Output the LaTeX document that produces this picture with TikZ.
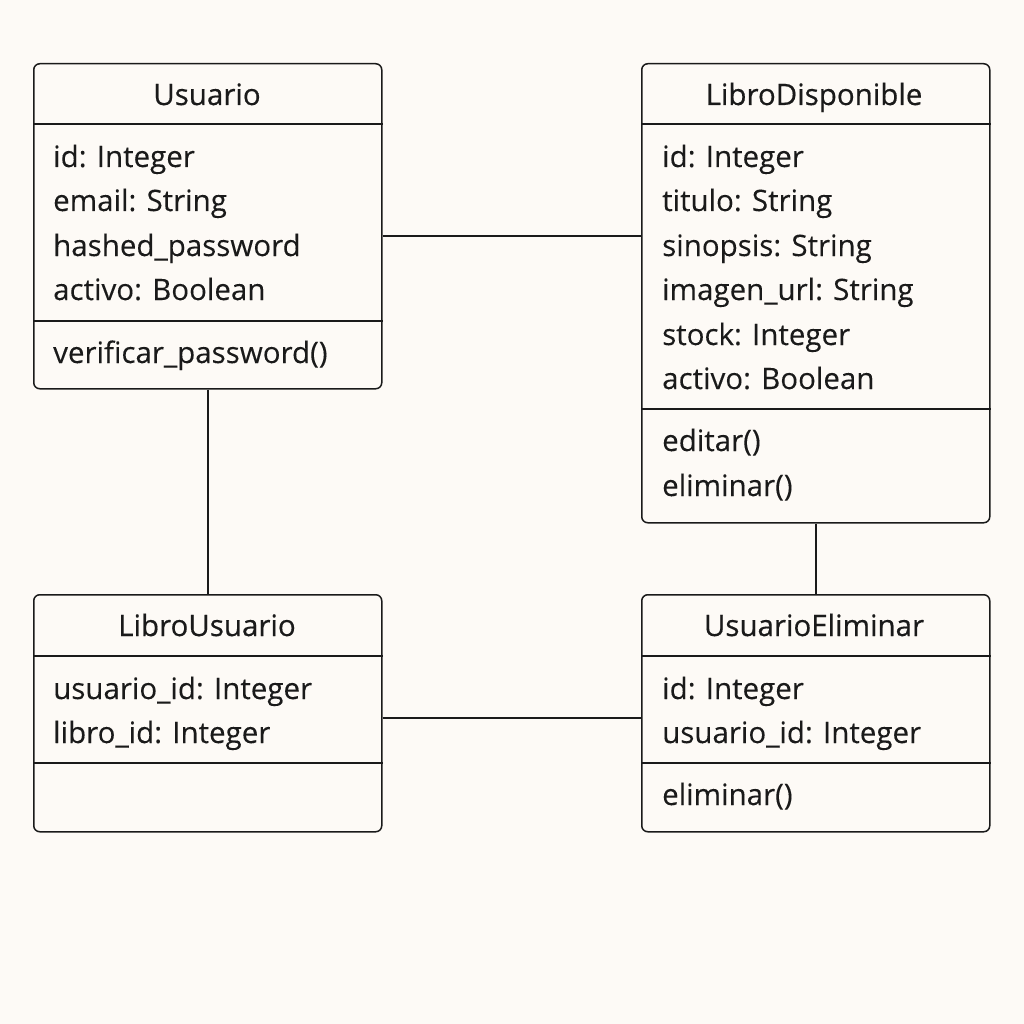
\documentclass[tikz,border=0pt]{standalone}
\usepackage{fontspec}
\setmainfont{Open Sans}
\newfontfamily\titlefont[FakeBold=0.5]{Open Sans}
\newfontfamily\bodyfont[FakeBold=0.15]{Open Sans}
\usetikzlibrary{calc}
\definecolor{bgc}{HTML}{FDFAF6}
\definecolor{ink}{HTML}{1A1A1A}
\tikzset{
  cls/.style={draw=ink, line width=1.5pt, rounded corners=6pt, anchor=north west, inner sep=0pt},
  sep/.style={draw=ink, line width=1.5pt},
  conn/.style={draw=ink, line width=1.5pt},
  ttl/.style={anchor=base, inner sep=0pt, text=ink, font=\titlefont\fontsize{29.5}{31}\selectfont},
  txt/.style={anchor=base west, inner sep=0pt, text=ink, font=\bodyfont\fontsize{29.5}{31}\selectfont},
}
\begin{document}
\begin{tikzpicture}[x=1pt,y=-1pt]
\fill[bgc] (0,0) rectangle (1024,1024);
\useasboundingbox (0,0) rectangle (1024,1024);
% boxes
\node[cls, minimum width=348pt, minimum height=325pt] (usuario) at (33,63) {};
\node[cls, minimum width=348pt, minimum height=459pt] (libro) at (641,63) {};
\node[cls, minimum width=348pt, minimum height=237pt] (lu) at (33,594) {};
\node[cls, minimum width=348pt, minimum height=237pt] (ue) at (641,594) {};
% separators
\draw[sep] ($(usuario.north west)+(0,61)$) -- ($(usuario.north east)+(0,61)$);
\draw[sep] ($(usuario.north west)+(0,258)$) -- ($(usuario.north east)+(0,258)$);
\draw[sep] ($(libro.north west)+(0,61)$) -- ($(libro.north east)+(0,61)$);
\draw[sep] ($(libro.north west)+(0,346)$) -- ($(libro.north east)+(0,346)$);
\draw[sep] ($(lu.north west)+(0,62)$) -- ($(lu.north east)+(0,62)$);
\draw[sep] ($(lu.north west)+(0,169)$) -- ($(lu.north east)+(0,169)$);
\draw[sep] ($(ue.north west)+(0,62)$) -- ($(ue.north east)+(0,62)$);
\draw[sep] ($(ue.north west)+(0,169)$) -- ($(ue.north east)+(0,169)$);
% titles
\node[ttl] (t1) at (207,105) {Usuario};
\node[ttl] (t2) at (814,105) {LibroDisponible};
\node[ttl] (t3) at (207,636) {LibroUsuario};
\node[ttl] (t4) at (814,636) {UsuarioEliminar};
% Usuario
\node[txt] (u1) at (53,167) {id: Integer};
\node[txt] (u2) at (53,211) {email: String};
\node[txt] (u3) at (53,256) {hashed\_password};
\node[txt] (u4) at (53,300) {activo: Boolean};
\node[txt] (u5) at (53,363) {verificar\_password()};
% LibroDisponible
\node[txt] (l1) at (662,167) {id: Integer};
\node[txt] (l2) at (662,211) {titulo: String};
\node[txt] (l3) at (662,256) {sinopsis: String};
\node[txt] (l4) at (662,300) {imagen\_url: String};
\node[txt] (l5) at (662,345) {stock: Integer};
\node[txt] (l6) at (662,389) {activo: Boolean};
\node[txt] (l7) at (662,451) {editar()};
\node[txt] (l8) at (662,496) {eliminar()};
% LibroUsuario
\node[txt] (a1) at (53,699) {usuario\_id: Integer};
\node[txt] (a2) at (53,743) {libro\_id: Integer};
% UsuarioEliminar
\node[txt] (e1) at (662,699) {id: Integer};
\node[txt] (e2) at (662,743) {usuario\_id: Integer};
\node[txt] (e3) at (662,805) {eliminar()};
% connectors
\draw[conn] (usuario.east |- 0,236) -- (libro.west |- 0,236);
\draw[conn] (usuario.south) -- (lu.north);
\draw[conn] (libro.south) -- (ue.north);
\draw[conn] (lu.east |- 0,718) -- (ue.west |- 0,718);
\end{tikzpicture}
\end{document}
